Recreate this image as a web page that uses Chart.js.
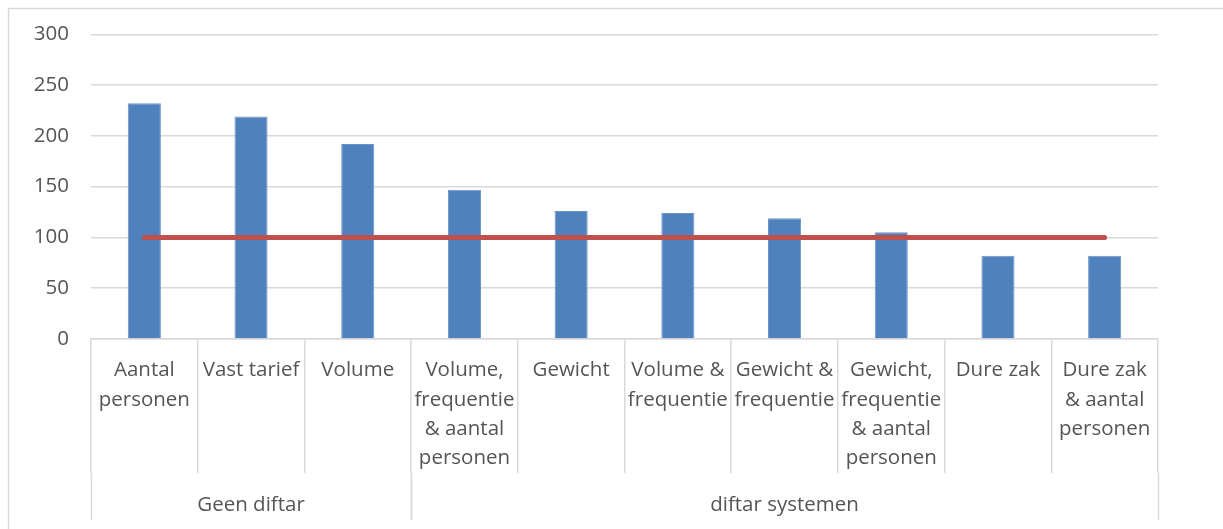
<!DOCTYPE html>
<html>
<head>
<meta charset="utf-8">
<script src="https://cdn.jsdelivr.net/npm/chart.js@4"></script>
<style>
  html, body { margin: 0; padding: 0; background: #fff; }
  #wrap { width: 1223px; height: 529px; }
</style>
</head>
<body>
<div id="wrap"><canvas id="chart"></canvas></div>
<script>
// categories, grouped in two blocks under the axis
const categories = [
  ['Aantal', 'personen'],
  ['Vast tarief'],
  ['Volume'],
  ['Volume,', 'frequentie', '& aantal', 'personen'],
  ['Gewicht'],
  ['Volume &', 'frequentie'],
  ['Gewicht &', 'frequentie'],
  ['Gewicht,', 'frequentie', '& aantal', 'personen'],
  ['Dure zak'],
  ['Dure zak', '& aantal', 'personen']
];
const groupNames = ['Geen diftar', 'diftar systemen'];
const groupSizes = [3, 7];
const barValues = [232, 219, 192, 147, 126, 124, 119, 105, 82, 82];
const baseline = [100, 100, 100, 100, 100, 100, 100, 100, 100, 100];
const yTicks = [0, 50, 100, 150, 200, 250, 300];

const FONT = '"Open Sans", Lato, sans-serif';
const FS = 20.5;
const TXT = '#555555';
const GRID = '#d9d9d9';

// frame + second row of the category axis
const groupAxis = {
  id: 'groupAxis',
  beforeDraw(chart) {
    const c = chart.ctx;
    c.save();
    c.strokeStyle = GRID;
    c.lineWidth = 1.5;
    c.strokeRect(8.5, 8.5, 1240, 540);
    c.restore();
  },
  afterDraw(chart) {
    const c = chart.ctx;
    const x = chart.scales.x;
    const top = chart.chartArea.bottom + 134;
    const bottom = chart.chartArea.bottom + 181;
    const half = (x.getPixelForValue(1) - x.getPixelForValue(0)) / 2;
    c.save();
    c.strokeStyle = GRID;
    c.lineWidth = 1.5;
    c.fillStyle = TXT;
    c.font = FS + 'px ' + FONT;
    c.textAlign = 'center';
    c.textBaseline = 'middle';
    let start = 0;
    groupSizes.forEach((n, i) => {
      const x0 = x.getPixelForValue(start) - half;
      const x1 = x.getPixelForValue(start + n - 1) + half;
      [x0, x1].forEach(px => {
        c.beginPath();
        c.moveTo(Math.round(px) + 0.5, top);
        c.lineTo(Math.round(px) + 0.5, bottom);
        c.stroke();
      });
      c.fillText(groupNames[i], (x0 + x1) / 2, top + 32);
      start += n;
    });
    c.restore();
  }
};

new Chart(document.getElementById('chart'), {
  type: 'bar',
  data: {
    labels: categories,
    datasets: [
      {
        type: 'line',
        data: baseline,
        borderColor: '#c0504d',
        borderWidth: 5,
        borderCapStyle: 'round',
        pointRadius: 0,
        order: 0
      },
      {
        data: barValues,
        backgroundColor: '#4f81bd',
        borderColor: '#6b94c8',
        borderWidth: 1,
        categoryPercentage: 1,
        barPercentage: 0.31,
        order: 1
      }
    ]
  },
  options: {
    responsive: true,
    maintainAspectRatio: false,
    animation: false,
    devicePixelRatio: 1,
    layout: { padding: { top: 31, right: 65, bottom: 56, left: 11 } },
    plugins: { legend: { display: false }, tooltip: { enabled: false } },
    scales: {
      x: {
        grid: { drawOnChartArea: false, drawTicks: true, tickLength: 134, color: GRID, lineWidth: 1.5 },
        border: { color: GRID, width: 1.5 },
        ticks: {
          maxRotation: 0, autoSkip: false, color: TXT, padding: -117,
          font: { family: FONT, size: FS, lineHeight: 29.3 / FS }
        },
        afterFit(s) { s.height = 134; }
      },
      y: {
        min: 0, max: 300,
        afterBuildTicks(s) { s.ticks = yTicks.map(v => ({ value: v })); },
        grid: { color: GRID, lineWidth: 1.5, drawTicks: false },
        border: { display: false },
        ticks: { color: TXT, padding: 22, font: { family: FONT, size: FS } },
        afterFit(s) { s.width = 80; }
      }
    }
  },
  plugins: [groupAxis]
});
</script>
</body>
</html>
